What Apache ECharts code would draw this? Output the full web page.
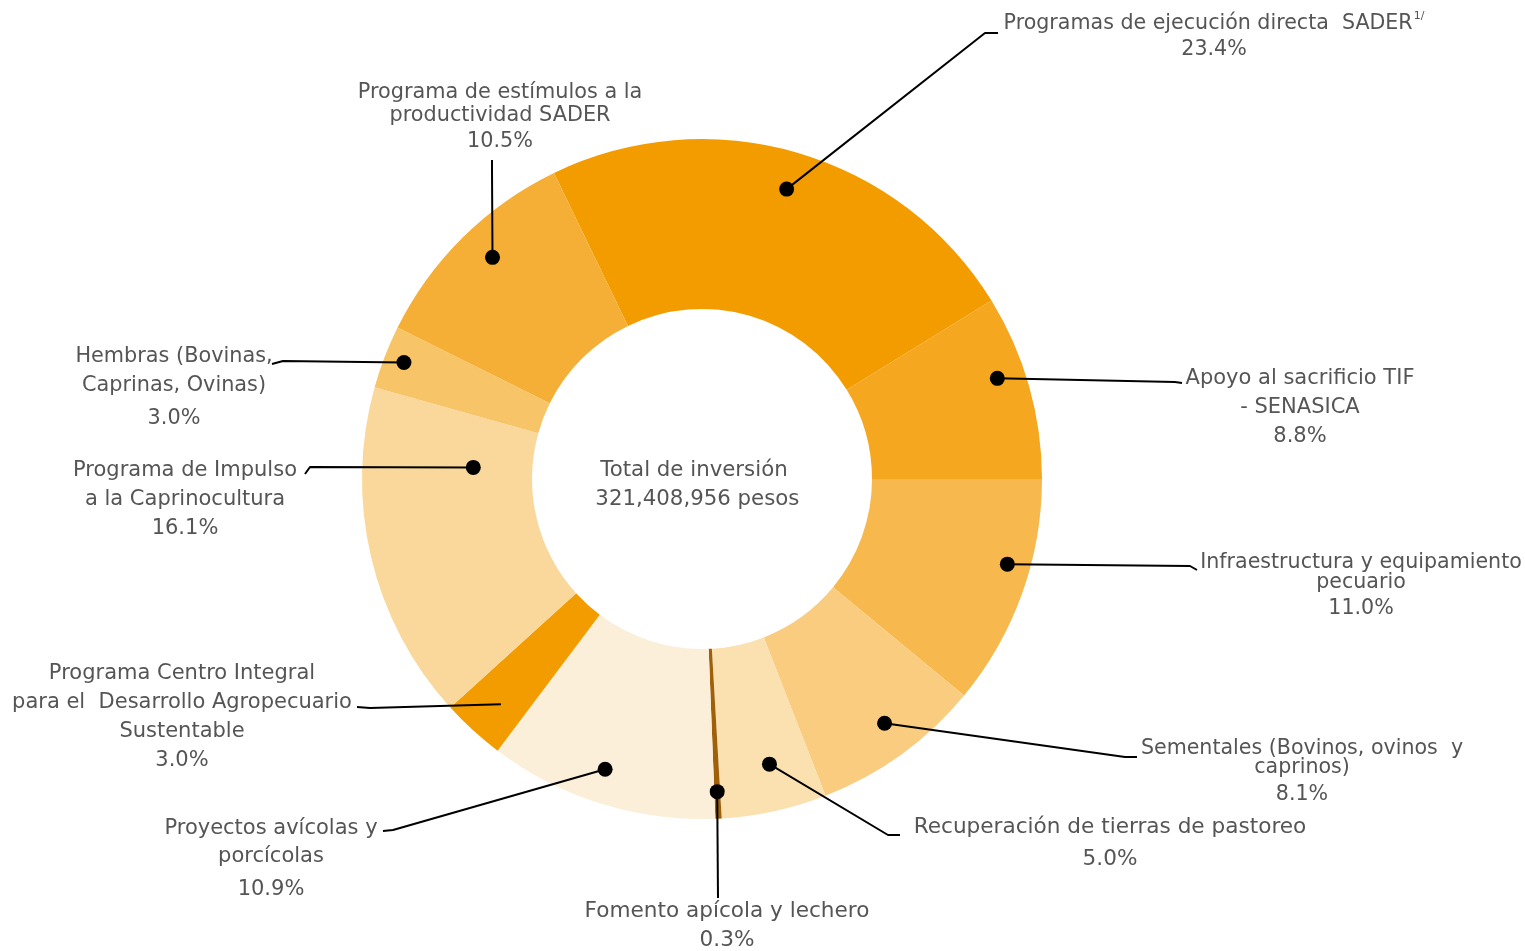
<!DOCTYPE html>
<html><head><meta charset="utf-8">
<script src="https://cdn.jsdelivr.net/npm/echarts@6/dist/echarts.min.js"></script>
<style>html,body{margin:0;padding:0;background:#fff}#c{width:1525px;height:951px}</style>
</head><body><div id="c"></div>
<script>
// ---------- data ----------
const categories = [
  'Programas de ejecución directa SADER',
  'Apoyo al sacrificio TIF - SENASICA',
  'Infraestructura y equipamiento pecuario',
  'Sementales (Bovinos, ovinos y caprinos)',
  'Recuperación de tierras de pastoreo',
  'Fomento apícola y lechero',
  'Proyectos avícolas y porcícolas',
  'Programa Centro Integral para el Desarrollo Agropecuario Sustentable',
  'Programa de Impulso a la Caprinocultura',
  'Hembras (Bovinas, Caprinas, Ovinas)',
  'Programa de estímulos a la productividad SADER'
];
const shares = [23.4, 8.8, 11.0, 8.1, 5.0, 0.3, 10.9, 3.0, 16.1, 3.0, 10.5];
const labelLines = [
  ['Programas de ejecución directa  SADER'],
  ['Apoyo al sacrificio TIF', '- SENASICA'],
  ['Infraestructura y equipamiento', 'pecuario'],
  ['Sementales (Bovinos, ovinos  y', 'caprinos)'],
  ['Recuperación de tierras de pastoreo'],
  ['Fomento apícola y lechero'],
  ['Proyectos avícolas y', 'porcícolas'],
  ['Programa Centro Integral', 'para el  Desarrollo Agropecuario', 'Sustentable'],
  ['Programa de Impulso', 'a la Caprinocultura'],
  ['Hembras (Bovinas,', 'Caprinas, Ovinas)'],
  ['Programa de estímulos a la', 'productividad SADER']
];
const footnotes = ['1/', '', '', '', '', '', '', '', '', '', ''];
const totalCaption = 'Total de inversión';
const totalInvestment = 321408956;
const totalUnit = 'pesos';

// ---------- styles / layout ----------
const colors = ['#F39C00', '#F5A71F', '#F7B94D', '#F9CC80', '#FBE0B0', '#A0600A',
                '#FCEFD9', '#F39C00', '#FAD89B', '#F7C468', '#F5AF36'];
const CX = 702, CY = 479, R_IN = 170, R_OUT = 340;
const START_FROM_TOP = -25.8;
// cx: label centre x, ty: first line centre y, lh: line height, gap: distance to percent line, fs: font size
const layout = [
  {cx:1214, ty:24,  lh:26, gap:26, fs:20.6, r:302, da:0,    dot:true,  elbow:[985,33],  end:[998,33]},
  {cx:1300, ty:379, lh:29, gap:29, fs:21,   r:312, da:-3,   dot:true,  elbow:[1175,382],end:[1182,383]},
  {cx:1361, ty:563, lh:20, gap:26, fs:20.6, r:317, da:-4.2, dot:true,  elbow:[1190,566],end:[1197,570]},
  {cx:1302, ty:749, lh:19, gap:27, fs:20.6, r:305, da:-0.9, dot:true,  elbow:[1125,757],end:[1137,757]},
  {cx:1110, ty:827, lh:32, gap:32, fs:21.6, r:293, da:-1,   dot:true,  elbow:[888,835], end:[900,835]},
  {cx:727,  ty:911, lh:29, gap:29, fs:21.6, r:313, da:0,    dot:true,  elbow:[718,898], end:[718,898]},
  {cx:271,  ty:829, lh:28, gap:33, fs:21,   r:306, da:1.1,  dot:true,  elbow:[393,830], end:[383,831]},
  {cx:182,  ty:674, lh:29, gap:29, fs:21,   r:302, da:-0.6, dot:false, elbow:[370,708], end:[357,707]},
  {cx:185,  ty:471, lh:29, gap:29, fs:21,   r:229, da:16.2, dot:true,  elbow:[310,467], end:[305,474]},
  {cx:174,  ty:357, lh:29, gap:33, fs:20.8, r:320, da:0.3,  dot:true,  elbow:[283,361], end:[272,364]},
  {cx:500,  ty:93,  lh:23, gap:26, fs:20.8, r:305, da:1.3,  dot:true,  elbow:[492,170], end:[492,160]}
];
const FONT = 'DejaVu Sans';
const FS_CENTER = 21.3;
const TXT = '#555555';

// angles (degrees clockwise from top) of slice mid points, from data
const total = shares.reduce((a, b) => a + b, 0);
const midAngles = [];
let acc = 0;
shares.forEach(v => { const a = v / total * 360; midAngles.push(START_FROM_TOP + acc + a / 2); acc += a; });
const dotAngle = i => midAngles[i] + layout[i].da;
function dotXY(i) {
  const a = dotAngle(i) * Math.PI / 180;
  return [CX + layout[i].r * Math.sin(a), CY - layout[i].r * Math.cos(a)];
}

const rich = {};
layout.forEach((l, i) => {
  rich['n' + i] = {fontFamily: FONT, fontSize: l.fs, color: TXT, lineHeight: l.lh, align: 'center'};
  rich['p' + i] = {fontFamily: FONT, fontSize: l.fs, color: TXT, lineHeight: 2 * l.gap - l.lh, align: 'center'};
});
rich.sup = {fontFamily: FONT, fontSize: 11, color: TXT, verticalAlign: 'top', lineHeight: 26, padding: [0, 0, 10, 1]};

const pieData = categories.map((name, i) => ({
  name: name, value: shares[i], itemStyle: {color: colors[i]}
}));

const dotData = [];
layout.forEach((l, i) => { if (l.dot) dotData.push([l.r, ((dotAngle(i) % 360) + 360) % 360]); });

const leaderLines = layout.map((l, i) => ({
  type: 'polyline', z: 20, silent: true,
  shape: {points: [dotXY(i), l.elbow, l.end]},
  style: {stroke: '#000000', lineWidth: 2, fill: null, lineJoin: 'round'}
}));

const chart = echarts.init(document.getElementById('c'), null, {renderer: 'canvas'});
chart.setOption({
  animation: false,
  backgroundColor: '#ffffff',
  polar: {center: [CX, CY], radius: R_OUT},
  angleAxis: {type: 'value', min: 0, max: 360, startAngle: 90, clockwise: true, show: false},
  radiusAxis: {type: 'value', min: 0, max: R_OUT, show: false},
  graphic: [{
    type: 'text', x: CX - 8, y: CY + 6, z: 10,
    style: {
      text: totalCaption + '\n ' + totalInvestment.toLocaleString('en-US') + ' ' + totalUnit,
      font: FS_CENTER + 'px "' + FONT + '"', fill: TXT, align: 'center', verticalAlign: 'middle', lineHeight: 29
    }
  }].concat(leaderLines),
  series: [{
    type: 'pie',
    center: [CX, CY],
    radius: [R_IN, R_OUT],
    startAngle: 90 - START_FROM_TOP,
    clockwise: true,
    silent: true,
    avoidLabelOverlap: false,
    itemStyle: {borderWidth: 0},
    emphasis: {disabled: true},
    label: {
      show: true, position: 'outside',
      formatter: p => {
        const i = p.dataIndex;
        const lines = labelLines[i].map((t, k) => '{n' + i + '|' + t + '}' + (k === 0 && footnotes[i] ? '{sup|' + footnotes[i] + '}' : ''));
        lines.push('{p' + i + '|' + shares[i].toFixed(1) + '%}');
        return lines.join('\n');
      },
      rich: rich
    },
    labelLine: {show: false},
    labelLayout: params => {
      const i = params.dataIndex, l = layout[i];
      return {x: l.cx, y: l.ty - l.lh / 2, align: 'center', verticalAlign: 'top'};
    },
    data: pieData
  }, {
    type: 'scatter',
    coordinateSystem: 'polar',
    symbol: 'circle', symbolSize: 15,
    silent: true, z: 5,
    itemStyle: {color: '#000000', opacity: 1},
    data: dotData
  }]
});
</script></body></html>
